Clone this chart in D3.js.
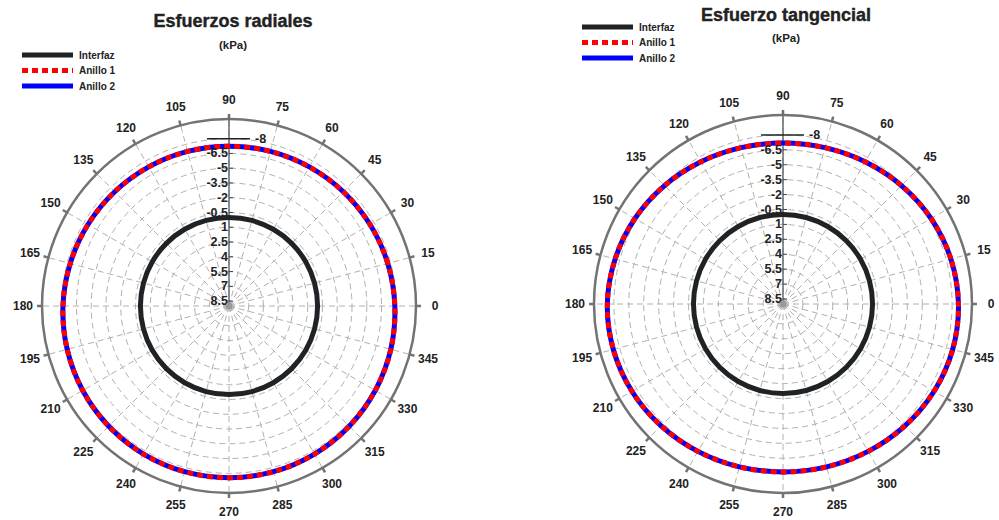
<!DOCTYPE html>
<html>
<head>
<meta charset="utf-8">
<script src="https://cdn.jsdelivr.net/npm/d3@7"></script>
<style>
  html, body { margin: 0; padding: 0; background: #fff; }
  svg { display: block; font-family: "Liberation Sans", Arial, sans-serif; }
</style>
</head>
<body>
<svg id="chart" width="999" height="520"></svg>
<script>
// Angles (degrees, counter-clockwise from 0 at the right)
const angles = d3.range(0, 360, 15);
// Radial axis tick values (axis runs from 9 at the centre to -10 at the rim)
const radialTicks = [-8, -6.5, -5, -3.5, -2, -0.5, 1, 2.5, 4, 5.5, 7, 8.5];
const seriesNames = ["Interfaz", "Anillo 1", "Anillo 2"];

// Esfuerzos radiales (kPa), one value per angle
const radialInterfaz = [0, 0, 0, 0, 0, 0, 0, 0, 0, 0, 0, 0, 0, 0, 0, 0, 0, 0, 0, 0, 0, 0, 0, 0];
const radialAnillo1 = [-7.85, -7.7, -7.55, -7.42, -7.32, -7.26, -7.24, -7.26, -7.32, -7.42, -7.55, -7.7,
                       -7.87, -8.02, -8.16, -8.28, -8.37, -8.43, -8.45, -8.43, -8.37, -8.28, -8.16, -8.02];
const radialAnillo2 = [-7.85, -7.7, -7.55, -7.42, -7.32, -7.26, -7.24, -7.26, -7.32, -7.42, -7.55, -7.7,
                       -7.87, -8.02, -8.16, -8.28, -8.37, -8.43, -8.45, -8.43, -8.37, -8.28, -8.16, -8.02];

// Esfuerzo tangencial (kPa), one value per angle
const tangInterfaz = [0, 0, 0, 0, 0, 0, 0, 0, 0, 0, 0, 0, 0, 0, 0, 0, 0, 0, 0, 0, 0, 0, 0, 0];
const tangAnillo1 = [-8.64, -8.47, -8.19, -7.84, -7.51, -7.27, -7.18, -7.27, -7.51, -7.84, -8.19, -8.47,
                     -8.66, -8.66, -8.54, -8.33, -8.11, -7.95, -7.88, -7.95, -8.11, -8.33, -8.54, -8.66];
const tangAnillo2 = [-8.64, -8.47, -8.19, -7.84, -7.51, -7.27, -7.18, -7.27, -7.51, -7.84, -8.19, -8.47,
                     -8.66, -8.66, -8.54, -8.33, -8.11, -7.95, -7.88, -7.95, -8.11, -8.33, -8.54, -8.66];

const charts = [
  { title: "Esfuerzos radiales", unit: "(kPa)", cx: 229, cy: 306, R: 187,
    titleX: 233, titleY: 27, unitY: 49, legX: 22, legY: 55,
    series: [radialInterfaz, radialAnillo1, radialAnillo2] },
  { title: "Esfuerzo tangencial", unit: "(kPa)", cx: 783, cy: 304, R: 189,
    titleX: 786, titleY: 21, unitY: 42, legX: 582, legY: 27,
    series: [tangInterfaz, tangAnillo1, tangAnillo2] }
];

const styles = [
  { color: "#1f2326", width: 5, dash: null },
  { color: "#ff0000", width: 5, dash: "6,4" },
  { color: "#0000ff", width: 5, dash: null }
];

const svg = d3.select("#chart");

charts.forEach(c => {
  const g = svg.append("g");
  const r = d3.scaleLinear().domain([9, -10]).range([0, c.R]);
  const toRad = d => (90 - d) * Math.PI / 180; // d3 radial angle: clockwise from 12 o'clock
  const px = (deg, rad) => c.cx + rad * Math.cos(deg * Math.PI / 180);
  const py = (deg, rad) => c.cy - rad * Math.sin(deg * Math.PI / 180);

  // Titles
  g.append("text").attr("x", c.titleX).attr("y", c.titleY).attr("text-anchor", "middle")
    .attr("font-size", 18).attr("font-weight", "bold").attr("fill", "#222")
    .attr("stroke", "#222").attr("stroke-width", 0.4).text(c.title);
  g.append("text").attr("x", c.titleX).attr("y", c.unitY).attr("text-anchor", "middle")
    .attr("font-size", 11.5).attr("font-weight", "bold").attr("fill", "#222").text(c.unit);

  // Dashed grid circles
  g.selectAll("circle.grid").data(radialTicks).join("circle")
    .attr("cx", c.cx).attr("cy", c.cy).attr("r", d => r(d))
    .attr("fill", "none").attr("stroke", "#b0b0b0").attr("stroke-width", 1)
    .attr("stroke-dasharray", "6,4");

  // Dashed spokes
  g.selectAll("line.spoke").data(angles).join("line")
    .attr("x1", c.cx).attr("y1", c.cy)
    .attr("x2", d => px(d, c.R)).attr("y2", d => py(d, c.R))
    .attr("stroke", "#b0b0b0").attr("stroke-width", 1).attr("stroke-dasharray", "6,4");

  // Outer rim and its ticks
  g.append("circle").attr("cx", c.cx).attr("cy", c.cy).attr("r", c.R)
    .attr("fill", "none").attr("stroke", "#737373").attr("stroke-width", 2.5);
  g.selectAll("line.rimtick").data(angles).join("line")
    .attr("x1", d => px(d, c.R)).attr("y1", d => py(d, c.R))
    .attr("x2", d => px(d, c.R + 5)).attr("y2", d => py(d, c.R + 5))
    .attr("stroke", "#737373").attr("stroke-width", 2.5);

  // Angle labels
  g.selectAll("text.ang").data(angles).join("text")
    .attr("x", d => px(d, c.R + 19)).attr("y", d => py(d, c.R + 19))
    .attr("text-anchor", "middle").attr("dominant-baseline", "central")
    .attr("font-size", 12).attr("font-weight", "bold").attr("fill", "#222")
    .text(d => d);

  // Radial axis line
  g.append("line").attr("x1", c.cx).attr("y1", c.cy).attr("x2", c.cx).attr("y2", c.cy - c.R - 5)
    .attr("stroke", "#6a6a6a").attr("stroke-width", 1.5);

  // Series
  const line = d3.lineRadial()
    .angle((d, i) => toRad(angles[i]))
    .radius(d => r(d))
    .curve(d3.curveCardinalClosed);
  [0, 2, 1].forEach(k => {
    g.append("path")
      .attr("transform", `translate(${c.cx},${c.cy})`)
      .attr("d", line(c.series[k]))
      .attr("fill", "none")
      .attr("stroke", styles[k].color)
      .attr("stroke-width", styles[k].width)
      .attr("stroke-dasharray", styles[k].dash);
  });

  // Radial tick marks and labels
  const inner = radialTicks.filter(t => t !== -8);
  g.selectAll("line.rtick").data(inner).join("line")
    .attr("x1", c.cx).attr("x2", c.cx + 4)
    .attr("y1", d => c.cy - r(d)).attr("y2", d => c.cy - r(d))
    .attr("stroke", "#444").attr("stroke-width", 1);
  g.selectAll("text.rlab").data(inner).join("text")
    .attr("x", c.cx - 1).attr("y", d => c.cy - r(d))
    .attr("text-anchor", "end").attr("dominant-baseline", "central")
    .attr("font-size", 12.5).attr("font-weight", "bold").attr("fill", "#222")
    .text(d => d);
  // Outermost tick with its label to the right
  g.append("line").attr("x1", c.cx - 22).attr("x2", c.cx + 21)
    .attr("y1", c.cy - r(-8)).attr("y2", c.cy - r(-8))
    .attr("stroke", "#222").attr("stroke-width", 1.5);
  g.append("text").attr("x", c.cx + 26).attr("y", c.cy - r(-8))
    .attr("dominant-baseline", "central")
    .attr("font-size", 12.5).attr("font-weight", "bold").attr("fill", "#222").text(-8);

  // Centre marker
  g.append("circle").attr("cx", c.cx).attr("cy", c.cy).attr("r", 3.5).attr("fill", "#999");

  // Legend
  seriesNames.forEach((name, k) => {
    const y = c.legY + k * 15.5;
    g.append("line").attr("x1", c.legX).attr("x2", c.legX + 51).attr("y1", y).attr("y2", y)
      .attr("stroke", styles[k].color).attr("stroke-width", styles[k].width)
      .attr("stroke-dasharray", styles[k].dash);
    g.append("text").attr("x", c.legX + 57).attr("y", y).attr("dominant-baseline", "central")
      .attr("font-size", 10).attr("font-weight", "bold").attr("fill", "#222").text(name);
  });
});
</script>
</body>
</html>
